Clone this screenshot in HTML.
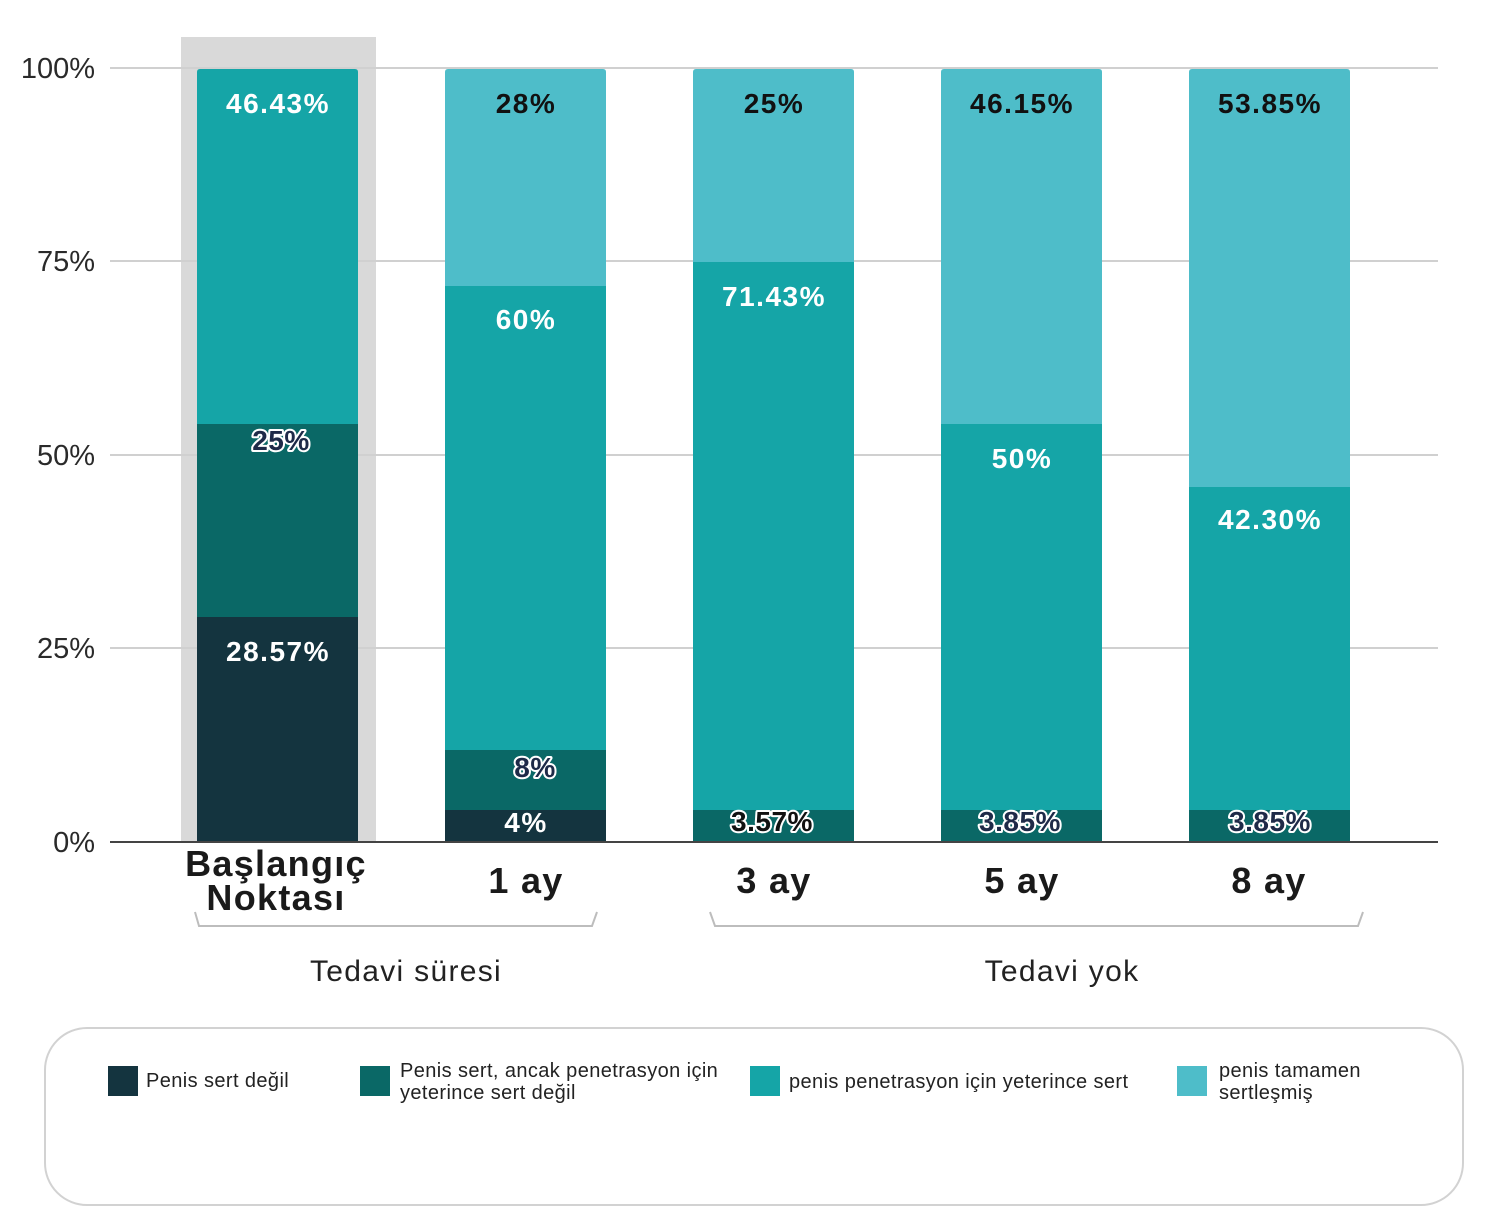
<!DOCTYPE html>
<html>
<head>
<meta charset="utf-8">
<style>
html,body{margin:0;padding:0;background:#fff;}
svg{display:block;}
text{font-family:"Liberation Sans","DejaVu Sans",sans-serif;}
</style>
</head>
<body>
<svg width="1500" height="1225" viewBox="0 0 1500 1225" xmlns="http://www.w3.org/2000/svg">
  <rect x="0" y="0" width="1500" height="1225" fill="#fff"/>
  <!-- highlight -->
  <rect x="181" y="37" width="195" height="805" fill="#D9D9D9"/>
  <!-- gridlines -->
  <g stroke="#d0d0d0" stroke-width="2">
    <line x1="110" y1="68" x2="1438" y2="68"/>
    <line x1="110" y1="261" x2="1438" y2="261"/>
    <line x1="110" y1="455" x2="1438" y2="455"/>
    <line x1="110" y1="648" x2="1438" y2="648"/>
  </g>
  <!-- y labels -->
  <g font-size="29" fill="#2a2a2a" text-anchor="end">
    <text x="95" y="78">100%</text>
    <text x="95" y="271">75%</text>
    <text x="95" y="465">50%</text>
    <text x="95" y="658">25%</text>
    <text x="95" y="852">0%</text>
  </g>

  <!-- Baseline bar -->
  <path d="M197 424 V72 Q197 69 200 69 H355 Q358 69 358 72 V424 Z" fill="#15A5A7"/>
  <rect x="197" y="424" width="161" height="193" fill="#0A6866"/>
  <rect x="197" y="617" width="161" height="225" fill="#14343F"/>

  <!-- 1 ay -->
  <path d="M445 286 V72 Q445 69 448 69 H603 Q606 69 606 72 V286 Z" fill="#4EBDC9"/>
  <rect x="445" y="286" width="161" height="464" fill="#15A5A7"/>
  <rect x="445" y="750" width="161" height="60" fill="#0A6866"/>
  <rect x="445" y="810" width="161" height="32" fill="#14343F"/>

  <!-- 3 ay -->
  <path d="M693 262 V72 Q693 69 696 69 H851 Q854 69 854 72 V262 Z" fill="#4EBDC9"/>
  <rect x="693" y="262" width="161" height="548" fill="#15A5A7"/>
  <rect x="693" y="810" width="161" height="32" fill="#0A6866"/>

  <!-- 5 ay -->
  <path d="M941 424 V72 Q941 69 944 69 H1099 Q1102 69 1102 72 V424 Z" fill="#4EBDC9"/>
  <rect x="941" y="424" width="161" height="386" fill="#15A5A7"/>
  <rect x="941" y="810" width="161" height="32" fill="#0A6866"/>

  <!-- 8 ay -->
  <path d="M1189 487 V72 Q1189 69 1192 69 H1347 Q1350 69 1350 72 V487 Z" fill="#4EBDC9"/>
  <rect x="1189" y="487" width="161" height="323" fill="#15A5A7"/>
  <rect x="1189" y="810" width="161" height="32" fill="#0A6866"/>

  <!-- axis -->
  <line x1="110" y1="842" x2="1438" y2="842" stroke="#444" stroke-width="2"/>

  <!-- value labels white -->
  <g font-size="28" font-weight="bold" fill="#fff" text-anchor="middle" letter-spacing="1.5">
    <text x="278" y="113">46.43%</text>
    <text x="278" y="661">28.57%</text>
    <text x="526" y="329">60%</text>
    <text x="526" y="832">4%</text>
    <text x="774" y="306">71.43%</text>
    <text x="1022" y="468">50%</text>
    <text x="1270" y="529">42.30%</text>
  </g>
  <!-- value labels black -->
  <g font-size="28" font-weight="bold" fill="#111" text-anchor="middle" letter-spacing="1.5">
    <text x="526" y="113">28%</text>
    <text x="774" y="113">25%</text>
    <text x="1022" y="113">46.15%</text>
    <text x="1270" y="113">53.85%</text>
  </g>
  <!-- outlined labels -->
  <g font-size="28" font-weight="bold" fill="#1E2A48" text-anchor="middle" stroke="#fff" stroke-width="4" stroke-linejoin="round" paint-order="stroke" letter-spacing="0.5">
    <text x="281" y="450">25%</text>
    <text x="535" y="777">8%</text>
    <text x="772" y="831" fill="#111">3.57%</text>
    <text x="1020" y="831">3.85%</text>
    <text x="1270" y="831">3.85%</text>
  </g>

  <!-- x labels -->
  <g font-size="36" font-weight="bold" fill="#1a1a1a" text-anchor="middle" letter-spacing="1.3">
    <text x="276" y="876">Başlangıç</text>
    <text x="276" y="910">Noktası</text>
    <text x="526" y="893">1 ay</text>
    <text x="774" y="893">3 ay</text>
    <text x="1022" y="893">5 ay</text>
    <text x="1269" y="893">8 ay</text>
  </g>

  <!-- brackets -->
  <g fill="none" stroke="#bdbdbd" stroke-width="2">
    <path d="M195 912 L199 926 H592 L597 912"/>
    <path d="M710 912 L715 926 H1358 L1363 912"/>
  </g>
  <g font-size="30" fill="#222" text-anchor="middle" letter-spacing="1.3">
    <text x="406" y="981">Tedavi süresi</text>
    <text x="1062" y="981">Tedavi yok</text>
  </g>

  <!-- legend -->
  <rect x="45" y="1028" width="1418" height="177" rx="42" ry="42" fill="#fff" stroke="#d2d2d2" stroke-width="2"/>
  <rect x="108" y="1066" width="30" height="30" fill="#14343F"/>
  <rect x="360" y="1066" width="30" height="30" fill="#0A6866"/>
  <rect x="750" y="1066" width="30" height="30" fill="#15A5A7"/>
  <rect x="1177" y="1066" width="30" height="30" fill="#4EBDC9"/>
  <g font-size="20" fill="#222" letter-spacing="0.4">
    <text x="146" y="1087">Penis sert değil</text>
    <text x="400" y="1077">Penis sert, ancak penetrasyon için</text>
    <text x="400" y="1099">yeterince sert değil</text>
    <text x="789" y="1088">penis penetrasyon için yeterince sert</text>
    <text x="1219" y="1077">penis tamamen</text>
    <text x="1219" y="1099">sertleşmiş</text>
  </g>
</svg>
</body>
</html>
